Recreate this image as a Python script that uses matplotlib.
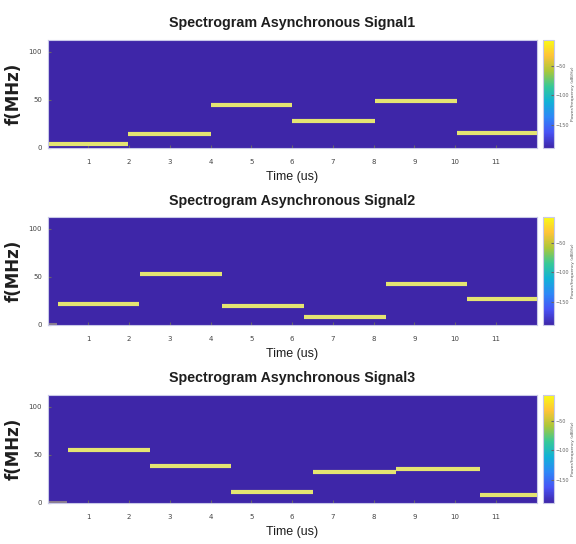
import matplotlib
matplotlib.use("Agg")
import matplotlib.pyplot as plt
from matplotlib.colors import LinearSegmentedColormap, Normalize
from matplotlib.cm import ScalarMappable

# ---------------- data ----------------
titles = ["Spectrogram Asynchronous Signal1",
          "Spectrogram Asynchronous Signal2",
          "Spectrogram Asynchronous Signal3"]

sig1_start = [0.0, 1.97, 4.0, 6.0, 8.03, 10.05]
sig1_end = [1.97, 4.0, 6.0, 8.03, 10.05, 12.0]
sig1_freq = [4.5, 14, 45, 28, 49, 16]

sig2_start = [0.25, 2.26, 4.27, 6.28, 8.29, 10.3]
sig2_end = [2.24, 4.27, 6.28, 8.29, 10.3, 12.0]
sig2_freq = [22, 52.5, 20, 8, 42.5, 26.5]

sig3_start = [0.5, 2.5, 4.5, 6.52, 8.54, 10.6]
sig3_end = [2.5, 4.5, 6.52, 8.54, 10.6, 12.0]
sig3_freq = [55, 38.5, 11.5, 32.5, 35.5, 8.5]

# faint start-up stubs (start, end, freq) for signals 2 and 3
stub_start = [None, 0.0, 0.0]
stub_end = [None, 0.22, 0.48]
stub_freq = [None, 1.0, 1.0]

x_ticks = [1, 2, 3, 4, 5, 6, 7, 8, 9, 10, 11]
y_ticks = [0, 50, 100]
cbar_ticks = [-150, -100, -50]
x_max = 12
y_max = 112
power_min, power_max = -190, -5

starts = [sig1_start, sig2_start, sig3_start]
ends = [sig1_end, sig2_end, sig3_end]
freqs = [sig1_freq, sig2_freq, sig3_freq]

# ---------------- style ----------------
parula = LinearSegmentedColormap.from_list("parula", [
    (0.2422, 0.1504, 0.6603), (0.2810, 0.3228, 0.9579),
    (0.1786, 0.5289, 0.9682), (0.0689, 0.6948, 0.8394),
    (0.2161, 0.7843, 0.5923), (0.6720, 0.7793, 0.2227),
    (0.9970, 0.7659, 0.2199), (0.9769, 0.9839, 0.0805)])
bg = (0.2422, 0.1504, 0.6603)
seg_color = "#e4e472"
sans = ["Liberation Sans", "DejaVu Sans"]

fig = plt.figure(figsize=(5.76, 5.44), dpi=100)
left, width = 0.0828, 0.849
height = 0.1985
bottoms = [0.728, 0.4026, 0.0754]
norm = Normalize(power_min, power_max)

for i in range(3):
    ax = fig.add_axes([left, bottoms[i], width, height])
    ax.set_facecolor(bg)
    ax.hlines(freqs[i], starts[i], ends[i], colors=seg_color, linewidth=3.0)
    if stub_start[i] is not None:
        ax.hlines([stub_freq[i]], [stub_start[i]], [stub_end[i]],
                  colors=seg_color, linewidth=1.5, alpha=0.45)
    ax.set_xlim(0, x_max)
    ax.set_ylim(0, y_max)
    ax.set_xticks(x_ticks)
    ax.set_yticks(y_ticks)
    ax.tick_params(axis="x", direction="in", length=2, labelsize=5,
                   colors="#666666", labelcolor="#444444", pad=8)
    ax.tick_params(axis="y", direction="in", length=2, labelsize=5,
                   colors="#666666", labelcolor="#444444", pad=4)
    for s in ax.spines.values():
        s.set_color("#c8c8e8")
        s.set_linewidth(0.8)
    ax.set_title(titles[i], family=sans, fontweight="bold", fontsize=10.3,
                 color="#1e1e1e", pad=9)
    ax.set_xlabel("Time (us)", family=sans, fontsize=9, color="#1e1e1e",
                  labelpad=4)
    ax.set_ylabel("f(MHz)", family=["DejaVu Sans"], fontweight="bold",
                  fontsize=12, color="#1e1e1e", labelpad=4)

    cax = fig.add_axes([0.942, bottoms[i], 0.0196, height])
    sm = ScalarMappable(norm=norm, cmap=parula)
    cb = fig.colorbar(sm, cax=cax, ticks=cbar_ticks)
    cb.outline.set_edgecolor("#c8c8e8")
    cb.ax.tick_params(labelsize=3.5, length=2, direction="in",
                      colors="#666666", pad=1.5)
    cb.set_label("Power/frequency (dB/Hz)", fontsize=3.2, color="#555555")
    cb.ax.yaxis.set_label_coords(2.55, 0.5)

fig.savefig("out.png", dpi=100)
